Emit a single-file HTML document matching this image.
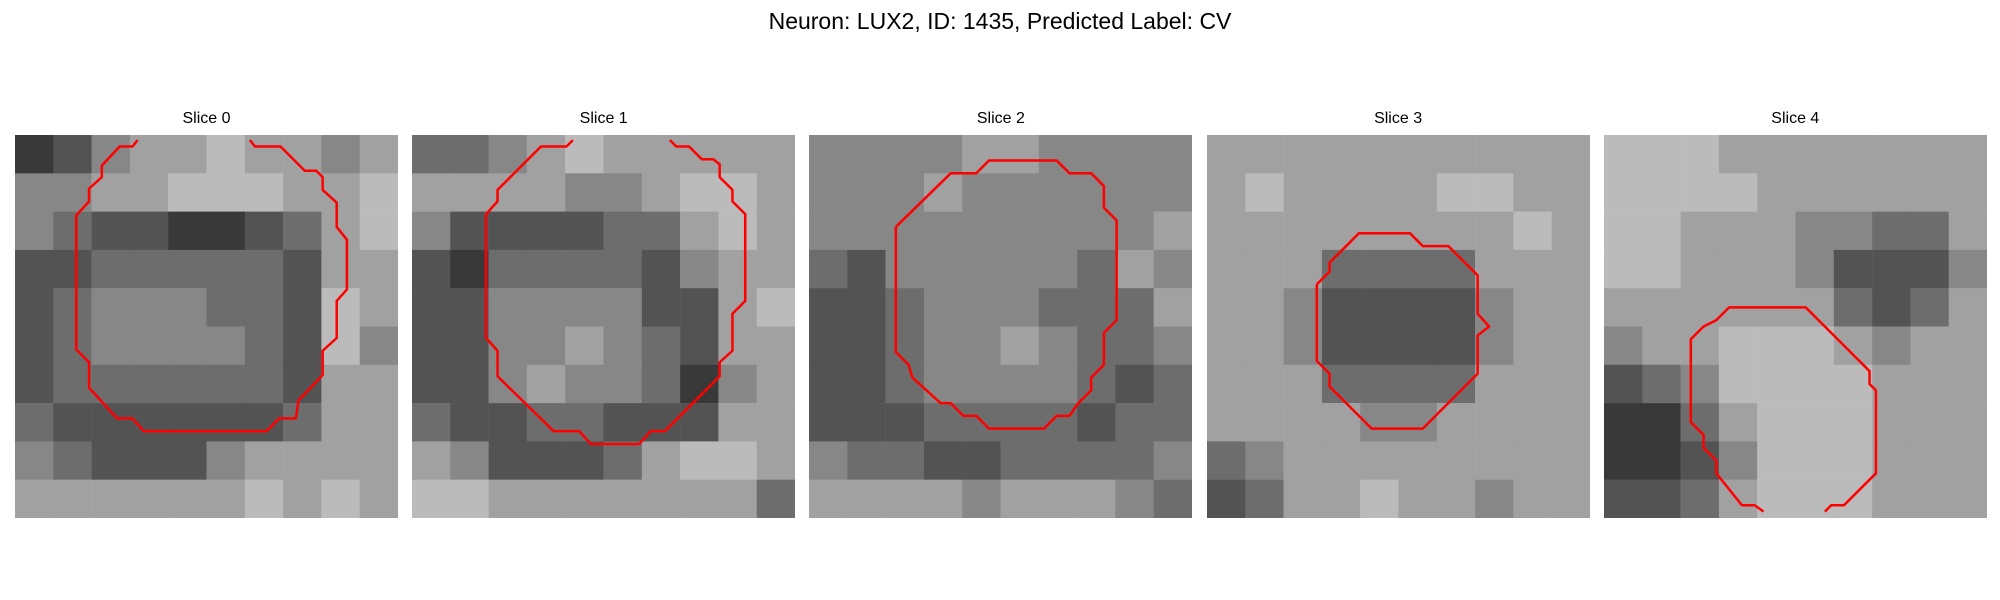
<!DOCTYPE html>
<html><head><meta charset="utf-8">
<style>
html,body{margin:0;padding:0;background:#fff;}
body{width:2000px;height:600px;position:relative;overflow:hidden;font-family:"Liberation Sans","DejaVu Sans",sans-serif;}
#suptitle{position:absolute;left:0;width:2000px;top:8px;text-align:center;font-size:23px;color:#000;}
.ptitle{position:absolute;top:110px;width:383px;text-align:center;font-size:16px;color:#000;}
svg.panel{position:absolute;top:135px;width:383px;height:383px;}
</style></head>
<body>
<div id="suptitle">Neuron: LUX2, ID: 1435, Predicted Label: CV</div>
<div id="root"></div>
<script>
const sliceNames = ["Slice 0","Slice 1","Slice 2","Slice 3","Slice 4"];
const img0 = [[2,3,5,6,6,7,6,6,5,6],[5,5,6,6,7,7,7,6,6,7],[5,4,3,3,2,2,3,4,6,7],[3,3,4,4,4,4,4,3,6,6],[3,4,5,5,5,4,4,3,7,6],[3,4,5,5,5,5,4,3,7,5],[3,4,4,4,4,4,4,3,6,6],[4,3,3,3,3,3,3,4,6,6],[5,4,3,3,3,5,6,6,6,6],[6,6,6,6,6,6,7,6,7,6]];
const img1 = [[4,4,5,6,7,6,6,6,6,6],[6,6,6,6,5,5,6,7,7,6],[5,3,3,3,3,4,4,6,7,6],[3,2,4,4,4,4,3,5,6,6],[3,3,5,5,5,5,3,3,6,7],[3,3,5,5,6,5,4,3,6,6],[3,3,5,6,5,5,4,2,5,6],[4,3,3,4,4,3,3,3,6,6],[6,5,3,3,3,4,6,7,7,6],[7,7,6,6,6,6,6,6,6,4]];
const img2 = [[5,5,5,5,6,6,5,5,5,5],[5,5,5,6,5,5,5,5,5,5],[5,5,5,5,5,5,5,5,5,6],[4,3,5,5,5,5,5,4,6,5],[3,3,4,5,5,5,4,4,4,6],[3,3,4,5,5,6,5,4,4,5],[3,3,4,5,5,5,5,4,3,4],[3,3,3,4,4,4,4,3,4,4],[5,4,4,3,3,4,4,4,4,5],[6,6,6,6,5,6,6,6,5,4]];
const img3 = [[6,6,6,6,6,6,6,6,6,6],[6,7,6,6,6,6,7,7,6,6],[6,6,6,6,6,6,6,6,7,6],[6,6,6,4,4,4,4,6,6,6],[6,6,5,3,3,3,3,5,6,6],[6,6,5,3,3,3,3,5,6,6],[6,6,6,4,4,4,4,6,6,6],[6,6,6,6,5,5,6,6,6,6],[4,5,6,6,6,6,6,6,6,6],[3,4,6,6,7,6,6,5,6,6]];
const img4 = [[7,7,7,6,6,6,6,6,6,6],[7,7,7,7,6,6,6,6,6,6],[7,7,6,6,6,5,5,4,4,6],[7,7,6,6,6,5,3,3,3,5],[6,6,6,6,6,6,4,3,4,6],[5,6,6,7,7,7,6,5,6,6],[3,4,5,7,7,7,7,6,6,6],[2,2,4,6,7,7,7,6,6,6],[2,2,3,5,7,7,7,6,6,6],[3,3,4,6,7,7,7,6,6,6]];
const cx0 = [9.6,9.2,8.2,6.8,6.8,5.8,5.8,4.8,4.8,5.8,5.8,8.0,9.2,10.1,19.7,20.7,22.0,22.2,24.1,24.1,25.2,25.2,26.0,26.0,25.2,25.2,24.1,24.1,23.6,22.7,20.8,18.8,18.4];
const cy0 = [0.4,0.9,0.9,2.4,3.3,4.2,5.2,6.3,16.8,17.8,19.8,22.2,22.2,23.2,23.2,22.2,22.2,20.8,18.8,16.9,15.9,13.0,12.1,8.2,7.2,5.3,4.3,3.3,2.8,2.8,0.9,0.9,0.4];
const cx1 = [12.6,12.1,10.1,6.7,6.7,5.8,5.8,6.7,6.7,11.1,13.1,14.0,17.8,18.7,19.8,24.1,24.1,25.1,25.1,26.1,26.1,25.1,25.1,24.1,24.1,23.6,22.7,21.7,20.7,20.2];
const cy1 = [0.4,0.9,0.9,4.3,5.2,6.2,15.9,16.9,18.9,23.2,23.2,24.2,24.2,23.2,23.2,18.9,17.8,16.9,14.0,13.0,6.2,5.2,4.3,3.3,2.3,1.9,1.9,0.9,0.9,0.4];
const cx2 = [6.8,11.1,13.1,14.1,19.4,20.4,22.1,23.1,23.1,24.1,24.1,23.1,23.1,22.1,22.1,21.1,20.4,19.4,18.4,14.1,13.1,12.1,11.1,10.3,8.1,7.8,6.8,6.8];
const cy2 = [7.2,3,3,2,2,3,3,4,5.7,6.7,14.5,15.5,18,19,20,21,22,22,23,23,22,22,21,21,19,18,17,7.2];
const cx3 = [8.6,9.6,9.6,10.9,11.9,15.9,16.9,18.9,21.2,21.2,22.1,21.2,21.2,16.9,12.9,9.6,9.6,8.6,8.6];
const cy3 = [11.7,10.7,10,8.7,7.7,7.7,8.7,8.7,11,14,15,15.7,18.7,23,23,19.7,18.7,17.7,11.7];
const cx4 = [12.5,11.8,10.8,8.8,8.8,7.8,7.8,6.8,6.8,7.8,8.8,9.8,15.8,19.8,20.8,20.8,21.3,21.3,18.8,17.8,17.3];
const cy4 = [29.5,29,29,26.5,25.5,24.5,23.5,22.5,16,15,14.5,13.5,13.5,17.5,18.5,19.5,20,26.5,29,29,29.5];

const images=[img0,img1,img2,img3,img4];
const contX=[cx0,cx1,cx2,cx3,cx4], contY=[cy0,cy1,cy2,cy3,cy4];
const NS="http://www.w3.org/2000/svg";
const root=document.getElementById('root');
const panelLeft=i=>15+i*397.2;
const gray=v=>{const g=Math.min(255,Math.round(5+v*26));return `rgb(${g},${g},${g})`;};
for(let i=0;i<5;i++){
  const t=document.createElement('div');
  t.className='ptitle';t.style.left=panelLeft(i)+'px';t.textContent=sliceNames[i];
  
  
  root.appendChild(t);
  const svg=document.createElementNS(NS,'svg');
  svg.setAttribute('class','panel');svg.setAttribute('viewBox','0 0 30 30');
  svg.setAttribute('preserveAspectRatio','none');
  svg.style.left=panelLeft(i)+'px';
  
  
  const img=images[i], n=img.length, cs=30/n;
  img.forEach((row,r)=>row.forEach((v,c)=>{
    const rc=document.createElementNS(NS,'rect');
    rc.setAttribute('x',c*cs);rc.setAttribute('y',r*cs);
    rc.setAttribute('width',cs+0.02);rc.setAttribute('height',cs+0.02);
    rc.setAttribute('fill',gray(v));
    
    
    svg.appendChild(rc);
  }));
  const pl=document.createElementNS(NS,'polyline');
  pl.setAttribute('points',contX[i].map((x,k)=>x+','+contY[i][k]).join(' '));
  pl.setAttribute('fill','none');pl.setAttribute('stroke','#ff0000');
  pl.setAttribute('stroke-width','2.5');pl.setAttribute('vector-effect','non-scaling-stroke');
  pl.setAttribute('stroke-linejoin','round');
  
  
  svg.appendChild(pl);
  root.appendChild(svg);
}
</script>
</body></html>
